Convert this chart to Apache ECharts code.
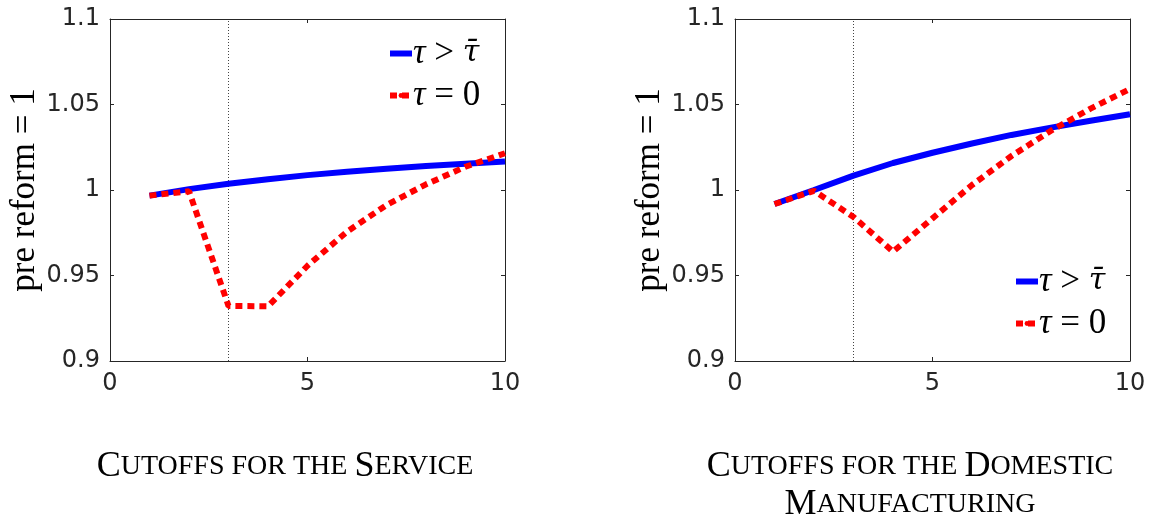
<!DOCTYPE html>
<html>
<head>
<meta charset="utf-8">
<script src="https://cdn.jsdelivr.net/npm/echarts@6/dist/echarts.min.js"></script>
<style>
  html, body { margin: 0; padding: 0; background: #fff; }
  #chart { width: 1149px; height: 519px; }
</style>
</head>
<body>
<div id="chart"></div>
<script>
// Firm-size cutoffs (x) and output relative to the pre-reform level
const cutoffs = [1, 2, 3, 4, 5, 6, 7, 8, 9, 10];

// Service sector
const serviceHighTau = [0.9967, 1.0005, 1.0036, 1.0063, 1.0087, 1.0107, 1.0124, 1.0140, 1.0154, 1.0166];
const serviceZeroTau = [0.9967, 0.9993, 0.9322, 0.9320, 0.9557, 0.9756, 0.9912, 1.0033, 1.0136, 1.0215];

// Domestic manufacturing sector
const manufHighTau = [0.9918, 1.0000, 1.0084, 1.0158, 1.0218, 1.0272, 1.0322, 1.0365, 1.0405, 1.0443];
const manufZeroTau = [0.9918, 0.9995, 0.9842, 0.9640, 0.9834, 1.0029, 1.0199, 1.0347, 1.0476, 1.0591];

// Reference cutoff marked by the dotted vertical line
const referenceCutoff = 3;

const xTicks = { min: 0, max: 10, interval: 5 };
const yTicks = { min: 0.9, max: 1.1, interval: 0.05 };

const seriesNames = ['τ > τ̄', 'τ = 0'];
const yAxisTitle = 'pre reform = 1';

const AXIS_COLOR = '#262626';
const BLUE = '#0000ff';
const RED = '#ff0000';

function pairs(xs, ys) { return xs.map((x, i) => [x, ys[i]]); }

const grids = [
  { left: 110, top: 19, width: 395, height: 342 },
  { left: 735, top: 19, width: 395, height: 342 }
];

const tickLabel = { fontFamily: 'DejaVu Sans', fontSize: 24, color: AXIS_COLOR };

function xAxes(gi) {
  const base = {
    type: 'value', gridIndex: gi, min: xTicks.min, max: xTicks.max, interval: xTicks.interval,
    splitLine: { show: false },
    axisLine: { show: true, onZero: false, lineStyle: { color: AXIS_COLOR, width: 1 } },
    axisTick: { show: true, inside: true, length: 4, lineStyle: { color: AXIS_COLOR } }
  };
  return [
    Object.assign({}, base, { position: 'bottom', axisLabel: Object.assign({ margin: 11 }, tickLabel) }),
    Object.assign({}, base, { position: 'top', axisLabel: { show: false } })
  ];
}

function yAxes(gi) {
  const base = {
    type: 'value', gridIndex: gi, min: yTicks.min, max: yTicks.max, interval: yTicks.interval,
    splitLine: { show: false },
    axisLine: { show: true, onZero: false, lineStyle: { color: AXIS_COLOR, width: 1 } },
    axisTick: { show: true, inside: true, length: 4, lineStyle: { color: AXIS_COLOR } }
  };
  return [
    Object.assign({}, base, {
      position: 'left',
      axisLabel: Object.assign({ margin: 10 }, tickLabel),
      name: yAxisTitle, nameLocation: 'middle', nameGap: 68,
      nameTextStyle: { fontFamily: 'Liberation Serif', fontSize: 35, color: '#000' }
    }),
    Object.assign({}, base, { position: 'right', axisLabel: { show: false } })
  ];
}

function panelSeries(gi, high, zero) {
  const ax = gi * 2;
  return [
    {
      type: 'line', xAxisIndex: ax, yAxisIndex: ax, silent: true, symbol: 'none',
      data: [[referenceCutoff, yTicks.min], [referenceCutoff, yTicks.max]],
      lineStyle: { color: '#444', width: 1, type: [1, 2] }, z: 1
    },
    {
      name: seriesNames[0], type: 'line', xAxisIndex: ax, yAxisIndex: ax,
      symbol: 'none', data: pairs(cutoffs, high),
      lineStyle: { color: BLUE, width: 6 }, itemStyle: { color: BLUE }, z: 2
    },
    {
      name: seriesNames[1], type: 'line', xAxisIndex: ax, yAxisIndex: ax,
      symbol: 'none', data: pairs(cutoffs, zero),
      lineStyle: { color: RED, width: 6, type: [7, 5], cap: 'butt' }, itemStyle: { color: RED }, z: 3
    }
  ];
}

const legendRich = {
  i: { fontFamily: 'Liberation Serif', fontStyle: 'italic', fontSize: 35, color: '#000' },
  b: { fontFamily: 'DejaVu Serif', fontStyle: 'italic', fontSize: 30, color: '#000' },
  n: { fontFamily: 'Liberation Serif', fontSize: 35, color: '#000' }
};
function legendFormatter(name) {
  return name === seriesNames[0]
    ? '{i|τ}{n| > }{b|τ\u0304}'
    : '{i|τ}{n| = 0}';
}
function legend(left, top) {
  return {
    data: seriesNames, orient: 'vertical', left: left, top: top, padding: 0,
    itemWidth: 22, itemHeight: 6, itemGap: 7, selectedMode: false,
    lineStyle: { width: 6 },
    formatter: legendFormatter,
    textStyle: { rich: legendRich, padding: [0, 0, 0, -4] }
  };
}

// Small-caps panel captions built from rich-text runs
const capRich = {
  C: { fontFamily: 'Liberation Serif', fontSize: 36, color: '#000', lineHeight: 38 },
  s: { fontFamily: 'Liberation Serif', fontSize: 28, color: '#000', lineHeight: 38 }
};
const captions = [
  { x: 285, text: '{C|C}{s|UTOFFS FOR THE }{C|S}{s|ERVICE}' },
  { x: 910, text: '{C|C}{s|UTOFFS FOR THE }{C|D}{s|OMESTIC}\n{C|M}{s|ANUFACTURING}' }
];

const chart = echarts.init(document.getElementById('chart'), null, { renderer: 'canvas' });
chart.setOption({
  backgroundColor: '#fff',
  animation: false,
  grid: grids,
  xAxis: [...xAxes(0), ...xAxes(1)],
  yAxis: [...yAxes(0), ...yAxes(1)],
  legend: [legend(387, 36), legend(1013, 264)],
  series: [...panelSeries(0, serviceHighTau, serviceZeroTau), ...panelSeries(1, manufHighTau, manufZeroTau)],
  graphic: captions.map(c => ({
    type: 'text', x: c.x, y: 448,
    style: { text: c.text, rich: capRich, align: 'center', verticalAlign: 'top' }
  }))
});
</script>
</body>
</html>
